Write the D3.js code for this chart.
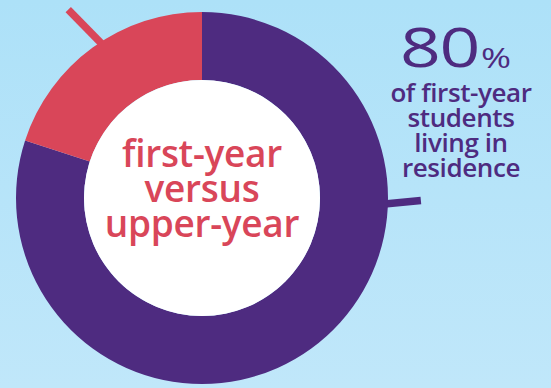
<!DOCTYPE html>
<html>
<head>
<meta charset="utf-8">
<script src="https://cdn.jsdelivr.net/npm/d3@7"></script>
<style>
  html, body { margin: 0; padding: 0; }
  body { width: 551px; height: 388px; overflow: hidden; }
</style>
</head>
<body>
<div id="chart"></div>
<script>
// 数据
const segments = ["in residence", "not in residence"]
const shares = [80, 20]
const segmentColors = ["#4e2b80", "#d94659"]
const centerLines = ["first-year", "versus", "upper-year"]
const headline = "80"
const captionLines = ["of first-year", "students", "living in", "residence"]

const width = 551
const height = 388
const origin = { x: 202, y: 198 }
const innerRadius = 118
const outerRadius = 186

const svg = d3.select("#chart")
  .append("svg")
  .attr("width", width)
  .attr("height", height)

// 背景渐变
const grad = svg.append("defs")
  .append("linearGradient")
  .attr("id", "bg")
  .attr("x1", 0).attr("y1", 0).attr("x2", 0).attr("y2", 1)
grad.append("stop").attr("offset", "0%").attr("stop-color", "#ade1f8")
grad.append("stop").attr("offset", "100%").attr("stop-color", "#c0e7fa")

svg.append("rect")
  .attr("width", width)
  .attr("height", height)
  .attr("fill", "url(#bg)")

const g = svg.append("g")
  .attr("transform", `translate(${origin.x},${origin.y})`)

const pie = d3.pie().sort(null).value((d) => d)
const arcs = pie(shares)

const arc = d3.arc().innerRadius(innerRadius).outerRadius(outerRadius)

// 引导线（画在环下面）
const polar = (angle, r) => [r * Math.sin(angle), -r * Math.cos(angle)]
const leaders = [
  // 红色：从外环出发，朝左上
  { angle: (327.2 * Math.PI) / 180, dir: [-33, -32], color: segmentColors[1] },
  // 紫色：从外环出发，朝右
  { angle: (92 * Math.PI) / 180, dir: [33, -4], color: segmentColors[0] },
]
leaders.forEach((l) => {
  const [x0, y0] = polar(l.angle, outerRadius - 6)
  const [x1, y1] = polar(l.angle, outerRadius)
  g.append("line")
    .attr("x1", x0)
    .attr("y1", y0)
    .attr("x2", x1 + l.dir[0])
    .attr("y2", y1 + l.dir[1])
    .attr("stroke", l.color)
    .attr("stroke-width", 7.5)
})

// 环形
g.selectAll(".slice")
  .data(arcs)
  .enter()
  .append("path")
  .attr("class", "slice")
  .attr("d", arc)
  .attr("fill", (d, i) => segmentColors[i])

// 内圆
g.append("circle")
  .attr("r", innerRadius)
  .attr("fill", "#ffffff")

// 中心文字
g.append("g")
  .attr("font-family", "'Open Sans', sans-serif")
  .attr("font-weight", 600)
  .attr("font-size", 37)
  .attr("fill", segmentColors[1])
  .attr("text-anchor", "middle")
  .selectAll("text")
  .data(centerLines)
  .enter()
  .append("text")
  .attr("x", 0)
  .attr("y", (d, i) => -31 + i * 35)
  .attr("letter-spacing", -0.3)
  .text((d) => d)

// 右侧说明
const note = svg.append("g")
  .attr("font-family", "'Open Sans', sans-serif")
  .attr("fill", segmentColors[0])

// 大号百分比（原图字形偏宽，横向拉伸）
note.append("text")
  .attr("transform", "translate(400,67) scale(1.3,1)")
  .attr("font-size", 55)
  .attr("font-weight", 500)
  .attr("letter-spacing", -1)
  .text(headline)
note.append("text")
  .attr("transform", "translate(481,68) scale(1.3,1)")
  .attr("font-size", 28)
  .attr("font-weight", 500)
  .text("%")

note.selectAll(".cap")
  .data(captionLines)
  .enter()
  .append("text")
  .attr("class", "cap")
  .attr("x", 461)
  .attr("y", (d, i) => 102 + i * 25)
  .attr("text-anchor", "middle")
  .attr("font-size", 26)
  .attr("font-weight", 600)
  .attr("letter-spacing", -0.4)
  .text((d) => d)
</script>
</body>
</html>
